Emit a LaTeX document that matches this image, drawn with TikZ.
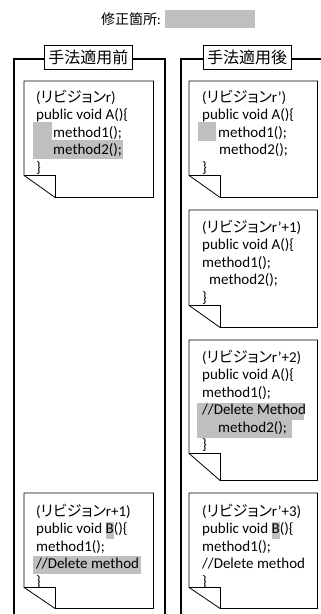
\documentclass[tikz,border=0pt]{standalone}
\usepackage{fontspec}
\setmainfont{Carlito}
\newfontfamily\jpfont{Noto Sans CJK JP}
\newfontfamily\kanafont[RawFeature=+palt]{Noto Sans CJK JP}
\usetikzlibrary{calc, backgrounds}
\definecolor{hlgray}{RGB}{191,191,191}
\definecolor{framecol}{RGB}{0,0,0}

%% paper outline with a folded corner at the bottom left
\newcommand{\paperoutline}[2]{%
  \draw[paperline] (#1.north west) -- (#1.north east) -- (#1.south east)
    -- ([xshift=31pt]#1.south west) -- ([yshift=#2]#1.south west) -- cycle;
  \draw[paperline] ([yshift=#2]#1.south west) -- ([xshift=31pt,yshift=#2]#1.south west)
    -- ([xshift=31pt]#1.south west);
}
\newcommand{\rev}[1]{({\kanafont リビジョン}#1)}
\newcommand{\hlchar}[1]{{\setlength{\fboxsep}{0pt}\colorbox{hlgray}{\strut #1}}}

\begin{document}
\begin{tikzpicture}[
        x=1pt, y=-1pt,
        frame/.style={draw=framecol, line width=1.4pt},
        paper/.style={rectangle, inner sep=0pt, anchor=north west},
        paperline/.style={draw=framecol, line width=0.8pt},
        code/.style={anchor=north west, inner sep=0pt, align=left, font=\fontsize{15}{17.4}\selectfont},
        title/.style={rectangle, draw=framecol, line width=0.8pt, fill=white, minimum width=88pt, minimum height=24pt, inner sep=0pt, font=\jpfont\fontsize{16}{18}\selectfont},
        hl/.style={fill=hlgray}
    ]
    \useasboundingbox (0,0) rectangle (321,614);

    %% --- Legend ---
    \node[hl, rectangle, minimum width=90pt, minimum height=18pt, inner sep=0pt, anchor=west] (legendbox) at (165,19) {};
    \node[anchor=east, inner sep=0pt, font=\fontsize{14}{16}\selectfont] (legend) at ([xshift=-4pt]legendbox.west) {{\jpfont 修正箇所}:};

    %% --- Frames (open at the bottom) ---
    \draw[frame] (14,614) -- (14,59) -- (165,59) -- (165,614);
    \draw[frame] (181,614) -- (181,59) -- (321,59);
    \node[title] (preT)  at (88.5,57) {手法適用前};
    \node[title] (postT) at (247,57)  {手法適用後};

    %% --- Highlighted lines ---
    \begin{scope}[on background layer]
        \fill[hl] (33,122) rectangle (52,140);
        \fill[hl] (33,140) rectangle (123,159);
        \fill[hl] (198,122) rectangle (216,141);
        \fill[hl] (197,403) rectangle (304,420);
        \fill[hl] (197,420) rectangle (292,438);
        \fill[hl] (33,556) rectangle (141,574);
    \end{scope}

    %% --- Before: revisions r, r+1 ---
    \node[paper, minimum width=129pt, minimum height=116pt] (befA) at (24,81)  {};
    \node[paper, minimum width=129pt, minimum height=115pt] (befB) at (24,493) {};
    \paperoutline{befA}{22pt}
    \paperoutline{befB}{21pt}
    \node[code] (befAtxt) at ([shift={(12pt,-9pt)}]befA.north west)
        {\rev{r}\\public void A()\{\\\hspace*{17pt}method1();\\\hspace*{17pt}method2();\\\}};
    \node[code] (befBtxt) at ([shift={(12pt,-11pt)}]befB.north west)
        {\rev{r+1}\\public void \hlchar{B}()\{\\method1();\\//Delete method\\\}};

    %% --- After: revisions r', r'+1, r'+2, r'+3 ---
    \node[paper, minimum width=128pt, minimum height=116pt] (aftA) at (189,81)  {};
    \node[paper, minimum width=128pt, minimum height=117pt] (aftB) at (189,210) {};
    \node[paper, minimum width=128pt, minimum height=140pt] (aftC) at (189,340) {};
    \node[paper, minimum width=128pt, minimum height=115pt] (aftD) at (189,493) {};
    \paperoutline{aftA}{22pt}
    \paperoutline{aftB}{22pt}
    \paperoutline{aftC}{27pt}
    \paperoutline{aftD}{21pt}
    \node[code] (aftAtxt) at ([shift={(13pt,-9pt)}]aftA.north west)
        {\rev{r’}\\public void A()\{\\\hspace*{16pt}method1();\\\hspace*{17pt}method2();\\\}};
    \node[code] (aftBtxt) at ([shift={(13pt,-10pt)}]aftB.north west)
        {\rev{r’+1}\\public void A()\{\\method1();\\\hspace*{7pt}method2();\\\}};
    \node[code] (aftCtxt) at ([shift={(13pt,-10pt)}]aftC.north west)
        {\rev{r’+2}\\public void A()\{\\method1();\\//Delete Method\\\hspace*{16pt}method2();\\\}};
    \node[code] (aftDtxt) at ([shift={(13pt,-11pt)}]aftD.north west)
        {\rev{r’+3}\\public void \hlchar{B}()\{\\method1();\\//Delete method\\\}};

\end{tikzpicture}
\end{document}
